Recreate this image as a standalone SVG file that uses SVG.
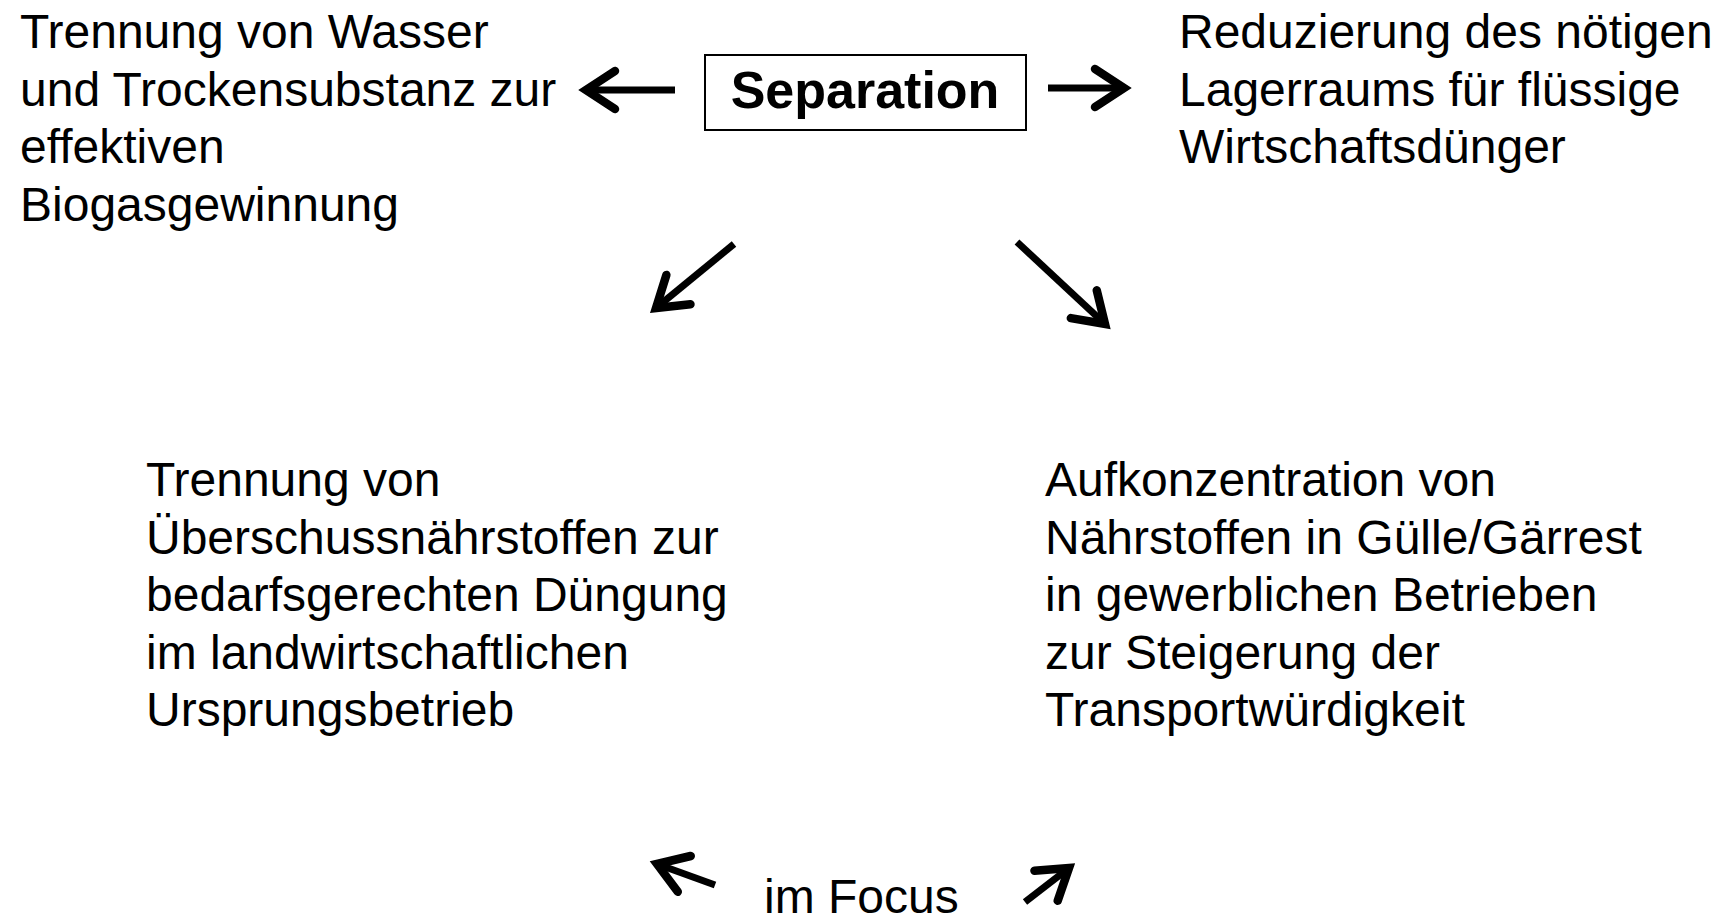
<svg xmlns="http://www.w3.org/2000/svg" width="1724" height="917" viewBox="0 0 1724 917">
<style>
text{font-family:"Liberation Sans",Arial,sans-serif;font-size:48px;fill:#000}
.b{font-weight:bold;font-size:52px}
.arr{stroke:#000;stroke-width:7;fill:none;marker-end:url(#ah)}
</style>
<defs>
<marker id="ah" markerUnits="userSpaceOnUse" viewBox="-45 -30 60 60" refX="0" refY="0" markerWidth="60" markerHeight="60" orient="auto" overflow="visible">
<path d="M-29,-19 L0,0 L-29,19" fill="none" stroke="#000" stroke-width="8.5" stroke-linecap="round" stroke-linejoin="miter"/>
</marker>
</defs>
<rect width="1724" height="917" fill="#fff"/>
<g id="node-separation">
<rect x="705" y="55" width="321" height="75" fill="#fff" stroke="#000" stroke-width="2"/>
<text class="b" x="865" y="108" text-anchor="middle">Separation</text>
</g>
<g id="node-wasser">
<text x="20" y="48">Trennung von Wasser</text>
<text x="20" y="106">und Trockensubstanz zur</text>
<text x="20" y="163">effektiven</text>
<text x="20" y="221">Biogasgewinnung</text>
</g>
<g id="node-lagerraum">
<text x="1179" y="48">Reduzierung des nötigen</text>
<text x="1179" y="106">Lagerraums für flüssige</text>
<text x="1179" y="163">Wirtschaftsdünger</text>
</g>
<g id="node-ueberschuss">
<text x="146" y="496">Trennung von</text>
<text x="146" y="554">Überschussnährstoffen zur</text>
<text x="146" y="611">bedarfsgerechten Düngung</text>
<text x="146" y="669">im landwirtschaftlichen</text>
<text x="146" y="726">Ursprungsbetrieb</text>
</g>
<g id="node-aufkonzentration">
<text x="1045" y="496">Aufkonzentration von</text>
<text x="1045" y="554">Nährstoffen in Gülle/Gärrest</text>
<text x="1045" y="611">in gewerblichen Betrieben</text>
<text x="1045" y="669">zur Steigerung der</text>
<text x="1045" y="726">Transportwürdigkeit</text>
</g>
<g id="node-focus">
<text x="764" y="913">im Focus</text>
</g>
<g id="connectors">
<line class="arr" x1="675" y1="90" x2="586" y2="90"/>
<line class="arr" x1="1048" y1="88" x2="1124" y2="88"/>
<line class="arr" x1="734" y1="244" x2="656" y2="308"/>
<line class="arr" x1="1017" y1="242" x2="1105" y2="324"/>
<line class="arr" x1="715" y1="885" x2="657" y2="864"/>
<line class="arr" x1="1025" y1="902" x2="1069" y2="868"/>
</g>
</svg>
